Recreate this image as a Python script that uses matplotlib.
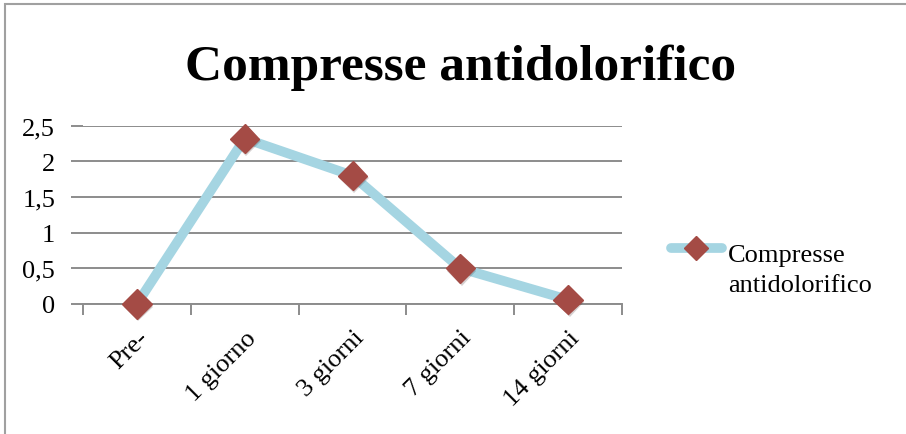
import matplotlib
matplotlib.use("Agg")
import matplotlib.pyplot as plt
import matplotlib.patheffects as pe
from matplotlib.lines import Line2D
from matplotlib.patches import Rectangle
from matplotlib.ticker import FuncFormatter, MultipleLocator, FixedLocator

categories = ["Pre-", "1 giorno", "3 giorni", "7 giorni", "14 giorni"]
values = [0, 2.32, 1.8, 0.5, 0.06]
series_name = ["Compresse", "antidolorifico"]
title = "Compresse antidolorifico"

LINE_COLOR = "#A5D5E2"
MARKER_COLOR = "#A44B45"
GRID_COLOR = "#8C8C8C"

W, H = 906, 435

plt.rcParams.update({
    "font.family": ["Liberation Serif", "DejaVu Serif"],
    "font.size": 19,
})

fig = plt.figure(figsize=(W / 100, H / 100), dpi=100)
ax = fig.add_axes([0.0916, 0.2989, 0.595, 0.4099])

x = list(range(len(categories)))
ax.plot(x, values, color=LINE_COLOR, lw=7, solid_capstyle="round", zorder=3)
ax.plot(x, values, ls="none", marker="D", markersize=15,
        markerfacecolor=MARKER_COLOR, markeredgecolor=MARKER_COLOR,
        zorder=4, clip_on=False,
        path_effects=[pe.SimplePatchShadow(offset=(1, -2), alpha=0.2), pe.Normal()])

ax.set_xlim(-0.5, len(categories) - 0.5)
ax.set_ylim(0, 2.5)

# horizontal gridlines, no vertical axis line
ax.yaxis.set_major_locator(MultipleLocator(0.5))
ax.yaxis.set_major_formatter(FuncFormatter(lambda v, _: f"{v:g}".replace(".", ",")))
ax.grid(axis="y", color=GRID_COLOR, lw=1.4)
ax.set_axisbelow(True)
for side in ("top", "right", "left"):
    ax.spines[side].set_visible(False)
ax.spines["bottom"].set_color(GRID_COLOR)
ax.spines["bottom"].set_linewidth(1.4)
ax.tick_params(axis="y", length=9, width=1.4, color=GRID_COLOR, pad=11)

# category labels at centres, tick marks at the boundaries
ax.set_xticks(x)
ax.set_xticklabels(categories, rotation=45, ha="right", va="top",
                   rotation_mode="anchor")
ax.tick_params(axis="x", which="major", length=0, pad=16)
ax.xaxis.set_minor_locator(FixedLocator([i - 0.5 for i in range(len(categories) + 1)]))
ax.tick_params(axis="x", which="minor", length=8, width=1.4, color=GRID_COLOR)

fig.text(0.5085, 355 / H, title, ha="center", va="baseline",
         fontsize=37, fontweight="bold")

# legend entry: handle sits level with the first text line
fy = lambda py: 1 - py / H
fig.add_artist(Line2D([671 / W, 722 / W], [fy(249)] * 2, transform=fig.transFigure,
                      color=LINE_COLOR, lw=7, solid_capstyle="round"))
fig.add_artist(Line2D([696 / W], [fy(249)], transform=fig.transFigure,
                      marker="D", markersize=12, color=MARKER_COLOR))
fig.text(728 / W, fy(262), series_name[0], ha="left", va="baseline", fontsize=19)
fig.text(728 / W, fy(292), series_name[1], ha="left", va="baseline", fontsize=19)

# chart area frame
fig.add_artist(Rectangle((5 / W, -0.1), 1.2, 1 - 5 / H + 0.1,
                         transform=fig.transFigure, fill=False,
                         edgecolor="#A0A0A0", lw=1.5))

fig.savefig("out.png", dpi=100)
